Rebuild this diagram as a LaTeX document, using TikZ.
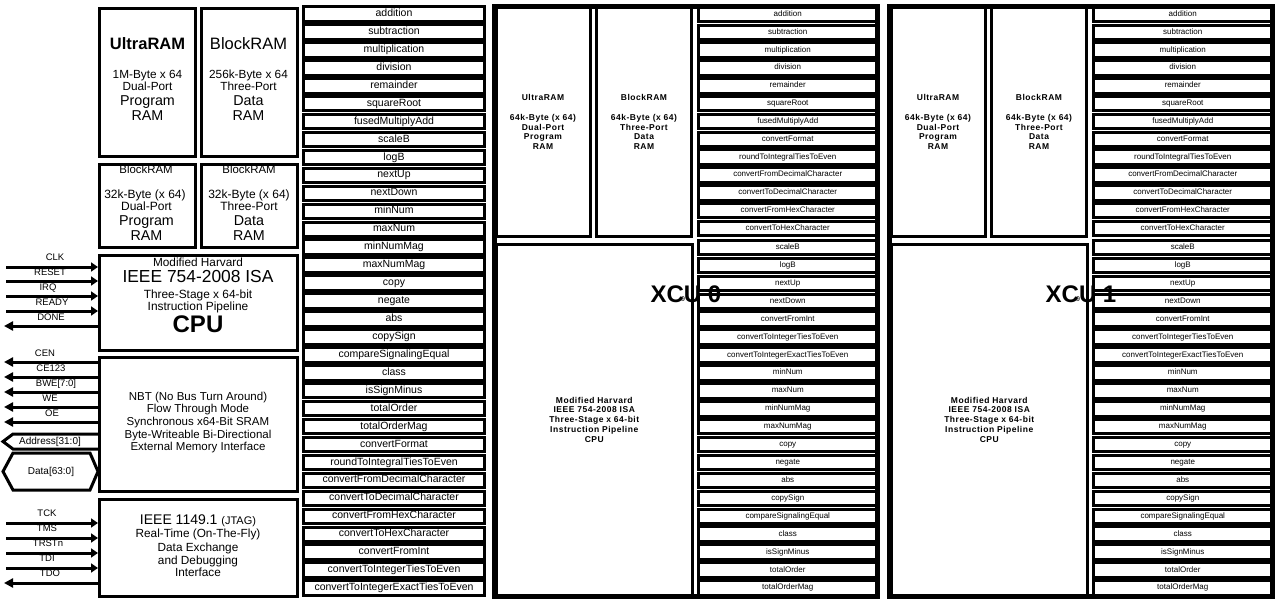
\documentclass[tikz,border=0pt]{standalone}
\usepackage{fontspec}
\setmainfont{Liberation Sans}
\usetikzlibrary{arrows.meta}
\newcommand{\myfs}[2]{\fontsize{#1}{#2}\selectfont}
\newcommand{\allfns}{addition,subtraction,multiplication,division,remainder,squareRoot,fusedMultiplyAdd,scaleB,logB,nextUp,nextDown,minNum,maxNum,minNumMag,maxNumMag,copy,negate,abs,copySign,compareSignalingEqual,class,isSignMinus,totalOrder,totalOrderMag,convertFormat,roundToIntegralTiesToEven,convertFromDecimalCharacter,convertToDecimalCharacter,convertFromHexCharacter,convertToHexCharacter,convertFromInt,convertToIntegerTiesToEven,convertToIntegerExactTiesToEven}
\newcommand{\topfns}{addition,subtraction,multiplication,division,remainder,squareRoot,fusedMultiplyAdd,convertFormat,roundToIntegralTiesToEven,convertFromDecimalCharacter,convertToDecimalCharacter,convertFromHexCharacter,convertToHexCharacter}
\newcommand{\botfns}{scaleB,logB,nextUp,nextDown,convertFromInt,convertToIntegerTiesToEven,convertToIntegerExactTiesToEven,minNum,maxNum,minNumMag,maxNumMag,copy,negate,abs,copySign,compareSignalingEqual,class,isSignMinus,totalOrder,totalOrderMag}
\begin{document}
\begin{tikzpicture}[x=1pt,y=-1pt,
  box/.style={draw=black,line width=3pt,fill=white,inner sep=0pt},
  fnrow/.style={draw=black,line width=3pt,fill=white,inner sep=0pt,minimum height=14.5pt},
  lt/.style={anchor=mid,inner sep=0pt},
  siglbl/.style={anchor=mid,inner sep=0pt,font=\myfs{9.5}{9.5}},
  sig/.style={line width=3pt},
  intip/.style={-{Triangle[length=7pt,width=9pt]}},
  outtip/.style={-{Triangle[length=9pt,width=9pt]}},
  outline/.style={line width=3pt,line join=miter}]
\useasboundingbox[fill=white] (0,0) rectangle (1278,602);

% ---------- left memory boxes ----------
\node[box,minimum width=96pt,minimum height=147.5pt] (lur) at (147.5,82.25) {};
\node[box,minimum width=95.5pt,minimum height=147.5pt] (lbr) at (249.25,82.25) {};
\node[box,minimum width=96pt,minimum height=82.5pt] (lbl2) at (147.5,205.75) {};
\node[box,minimum width=95.5pt,minimum height=82.5pt] (lbr2) at (249.25,205.75) {};
\node[box,minimum width=197.5pt,minimum height=94.5pt] (cpu) at (198.25,302.75) {};
\node[box,minimum width=197.5pt,minimum height=133.5pt] (nbt) at (198.25,424.25) {};
\node[box,minimum width=197.5pt,minimum height=97pt] (jtag) at (198.25,547.5) {};

\node[lt,font=\myfs{16.5}{16.5}\bfseries] (a1) at (147.5,47) {UltraRAM};
\node[lt,font=\myfs{11.8}{11.8}] (a2) at (147.5,76) {1M-Byte x 64};
\node[lt,font=\myfs{11.8}{11.8}] (a3) at (147.5,88) {Dual-Port};
\node[lt,font=\myfs{14.3}{14.3}] (a4) at (147.5,103) {Program};
\node[lt,font=\myfs{14.3}{14.3}] (a5) at (147.5,118) {RAM};

\node[lt,font=\myfs{16.5}{16.5}] (b1) at (248.5,47) {BlockRAM};
\node[lt,font=\myfs{11.8}{11.8}] (b2) at (248.5,76) {256k-Byte x 64};
\node[lt,font=\myfs{11.8}{11.8}] (b3) at (248.5,88) {Three-Port};
\node[lt,font=\myfs{14.3}{14.3}] (b4) at (248.5,103) {Data};
\node[lt,font=\myfs{14.3}{14.3}] (b5) at (248.5,118) {RAM};

\node[lt,font=\myfs{11.4}{11.4}] (c1) at (146,171) {BlockRAM};
\node[lt,font=\myfs{12}{12}] (c2) at (145,196) {32k-Byte (x 64)};
\node[lt,font=\myfs{12}{12}] (c3) at (146.5,208) {Dual-Port};
\node[lt,font=\myfs{14.3}{14.3}] (c4) at (146.5,223) {Program};
\node[lt,font=\myfs{14.3}{14.3}] (c5) at (146.5,238) {RAM};

\node[lt,font=\myfs{11.4}{11.4}] (d1) at (249,171) {BlockRAM};
\node[lt,font=\myfs{12}{12}] (d2) at (249,196) {32k-Byte (x 64)};
\node[lt,font=\myfs{12}{12}] (d3) at (249,208) {Three-Port};
\node[lt,font=\myfs{14.3}{14.3}] (d4) at (249,223) {Data};
\node[lt,font=\myfs{14.3}{14.3}] (d5) at (249,238) {RAM};

\node[lt,font=\myfs{11.8}{11.8}] (e1) at (198,264) {Modified Harvard};
\node[lt,font=\myfs{17.4}{17.4}] (e2) at (198,280) {IEEE 754-2008 ISA};
\node[lt,font=\myfs{11.9}{11.9}] (e3) at (198,296) {Three-Stage x 64-bit};
\node[lt,font=\myfs{11.9}{11.9}] (e4) at (198,308) {Instruction Pipeline};
\node[lt,font=\myfs{24}{24}\bfseries] (e5) at (198,330) {CPU};

\node[lt,font=\myfs{11.5}{11.5}] (f1) at (198,398) {NBT (No Bus Turn Around)};
\node[lt,font=\myfs{11.5}{11.5}] (f2) at (198,410) {Flow Through Mode};
\node[lt,font=\myfs{11.5}{11.5}] (f3) at (198,423) {Synchronous x64-Bit SRAM};
\node[lt,font=\myfs{11.5}{11.5}] (f4) at (198,436) {Byte-Writeable Bi-Directional};
\node[lt,font=\myfs{11.5}{11.5}] (f5) at (198,448) {External Memory Interface};

\node[lt,font=\myfs{14}{14}] (g1) at (198,522) {IEEE 1149.1 {\myfs{11}{11}(JTAG)}};
\node[lt,font=\myfs{11.8}{11.8}] (g2) at (198,535) {Real-Time (On-The-Fly)};
\node[lt,font=\myfs{11.8}{11.8}] (g3) at (198,549) {Data Exchange};
\node[lt,font=\myfs{11.8}{11.8}] (g4) at (198,562) {and Debugging};
\node[lt,font=\myfs{11.8}{11.8}] (g5) at (198,574) {Interface};

% ---------- signals ----------
\foreach \nm/\yy/\lx/\ly in {CLK/267/55/258, RESET/281/50/272.5, IRQ/296/48/287.5, READY/311/52/302.5}{
  \coordinate (s\nm) at (6,\yy);
  \node[siglbl] (l\nm) at (\lx,\ly) {\nm};
  \draw[sig,intip] (s\nm) -- (s\nm -| cpu.west);
}
\coordinate (sDONE) at (4,326);
\node[siglbl] (lDONE) at (51,317.5) {DONE};
\draw[sig,outtip] (sDONE -| cpu.west) -- (sDONE);

\foreach \nm/\txt/\yy/\lx/\ly in {CEN/CEN/362/45/353.5, CE/CE123/377/51/368.5, BWE/BWE[7:0]/392/56/384, WE/WE/407/50/399, OE/OE/422/52/413.5}{
  \coordinate (s\nm) at (4,\yy);
  \node[siglbl] (l\nm) at (\lx,\ly) {\txt};
  \draw[sig,outtip] (s\nm -| nbt.west) -- (s\nm);
}

\draw[outline] (98.5,434) -- (13,434) -- (3,441.5) -- (13,449) -- (98.5,449);
\node[siglbl,font=\myfs{10}{10}] (lAddr) at (50,441.5) {Address[31:0]};
\draw[outline] (13,453) -- (90,453) -- (98,471.5) -- (90,490) -- (13,490) -- (3,471.5) -- cycle;
\node[siglbl,font=\myfs{10}{10}] (lData) at (51,472) {Data[63:0]};

\foreach \nm/\yy/\lx/\ly in {TCK/523/47/514, TMS/538/47/529, TRSTn/553/48/544, TDI/568/47/559}{
  \coordinate (s\nm) at (6,\yy);
  \node[siglbl] (l\nm) at (\lx,\ly) {\nm};
  \draw[sig,intip] (s\nm) -- (s\nm -| jtag.west);
}
\coordinate (sTDO) at (4,583);
\node[siglbl] (lTDO) at (50,574) {TDO};
\draw[sig,outtip] (sTDO -| jtag.west) -- (sTDO);

% ---------- left function column ----------
\foreach \t [count=\i] in \allfns
  \node[fnrow,minimum width=181pt,font=\myfs{10.5}{10.5},text height=7.5pt,text depth=2.5pt] (L\i) at (394,{14+(\i-1)*17.94}) {\t};

% ---------- XCU units ----------
\foreach \k in {0,1}{
\begin{scope}[xshift={\k*395pt}]
  \node[box,minimum width=94pt,minimum height=228pt,align=center,font=\myfs{8.5}{9.5}\bfseries\addfontfeature{LetterSpace=6}] (xur\k) at (543,122)
    {UltraRAM\\[10.5pt]64k-Byte (x 64)\\Dual-Port\\Program\\RAM};
  \node[box,minimum width=95pt,minimum height=228pt,align=center,font=\myfs{8.5}{9.5}\bfseries\addfontfeature{LetterSpace=6}] (xbr\k) at (644,122)
    {BlockRAM\\[10.5pt]64k-Byte (x 64)\\Three-Port\\Data\\RAM};
  \node[box,minimum width=196.5pt,minimum height=350.5pt,align=center,font=\myfs{8.5}{9.8}\bfseries\addfontfeature{LetterSpace=6}] (xcpu\k) at (594.25,419.75)
    {Modified Harvard\\IEEE 754-2008 ISA\\Three-Stage x 64-bit\\Instruction Pipeline\\CPU};
  \foreach \t [count=\i] in \topfns
    \node[fnrow,minimum width=178.5pt,font=\myfs{8}{8},text height=6pt,text depth=2pt] (xt\k-\i) at (787.75,{14.5+(\i-1)*17.83}) {\t};
  \foreach \t [count=\i] in \botfns
    \node[fnrow,minimum width=178.5pt,font=\myfs{8}{8},text height=6pt,text depth=2pt] (xb\k-\i) at (787.75,{247.5+(\i-1)*17.92}) {\t};
  \node[lt,font=\myfs{24}{24}\bfseries] (xl\k) at (686,300) {XCU \k};
  \node[lt,font=\myfs{7}{7}] (xn\k) at (683,299) {9};
  \node[draw=black,line width=4.5pt,minimum width=383pt,minimum height=590pt,inner sep=0pt] (xo\k) at (686,301.5) {};
\end{scope}
}
\end{tikzpicture}
\end{document}
